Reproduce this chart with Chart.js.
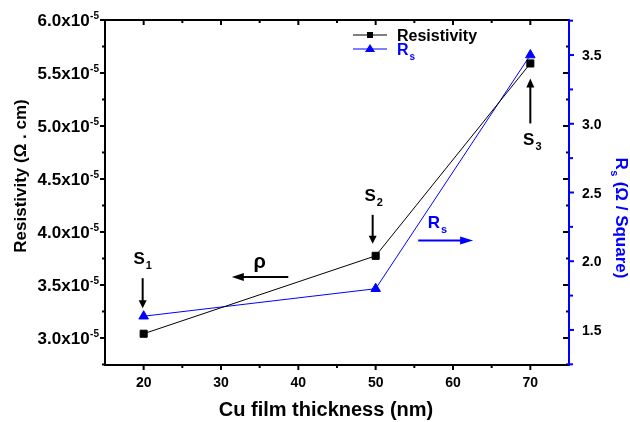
<!DOCTYPE html>
<html lang="en">
<head>
<meta charset="UTF-8">
<title>Resistivity and sheet resistance vs Cu film thickness</title>
<script src="https://cdn.jsdelivr.net/npm/chart.js@4.4.1/dist/chart.umd.min.js"></script>
<style>
  html, body { margin: 0; padding: 0; background: #fff; }
  canvas { display: block; }
</style>
</head>
<body>
<canvas id="chart" width="630" height="422"></canvas>
<script>
// Data
const thickness = [20, 50, 70];                       // nm
const resistivity = [3.04e-5, 3.775e-5, 5.59e-5];     // ohm.cm
const sheetResistance = [1.6, 1.8, 3.5];              // ohm/square

// Axis ticks
const xMajor = [20, 30, 40, 50, 60, 70];
const xMinor = [25, 35, 45, 55, 65];
const leftMajor = [3.0e-5, 3.5e-5, 4.0e-5, 4.5e-5, 5.0e-5, 5.5e-5, 6.0e-5];
const leftLabels = ['3.0x10', '3.5x10', '4.0x10', '4.5x10', '5.0x10', '5.5x10', '6.0x10'];
const leftMinor = [2.75e-5, 3.25e-5, 3.75e-5, 4.25e-5, 4.75e-5, 5.25e-5, 5.75e-5];
const rightMajor = [1.5, 2.0, 2.5, 3.0, 3.5];
const rightLabels = ['1.5', '2.0', '2.5', '3.0', '3.5'];
const rightMinor = [1.25, 1.75, 2.25, 2.75, 3.25, 3.75];

const BLUE = '#0000ff';
const font = (px) => `bold ${px}px "Liberation Sans", Arial, sans-serif`;

function line(ctx, x1, y1, x2, y2) {
  ctx.beginPath();
  ctx.moveTo(x1, y1);
  ctx.lineTo(x2, y2);
  ctx.stroke();
}

function arrow(ctx, x1, y1, x2, y2, color, head) {
  const a = Math.atan2(y2 - y1, x2 - x1);
  const h = head || 9;
  ctx.save();
  ctx.strokeStyle = color;
  ctx.fillStyle = color;
  ctx.lineWidth = 2;
  line(ctx, x1, y1, x2 - Math.cos(a) * h * 0.8, y2 - Math.sin(a) * h * 0.8);
  ctx.beginPath();
  ctx.moveTo(x2, y2);
  ctx.lineTo(x2 - h * Math.cos(a) + 4 * Math.sin(a), y2 - h * Math.sin(a) - 4 * Math.cos(a));
  ctx.lineTo(x2 - h * Math.cos(a) - 4 * Math.sin(a), y2 - h * Math.sin(a) + 4 * Math.cos(a));
  ctx.closePath();
  ctx.fill();
  ctx.restore();
}

// text with a subscript, centered on x
function subText(ctx, main, sub, x, y, size, subSize, color, align) {
  ctx.save();
  ctx.fillStyle = color;
  ctx.textBaseline = 'alphabetic';
  ctx.textAlign = 'left';
  ctx.font = font(size);
  const w1 = ctx.measureText(main).width;
  ctx.font = font(subSize);
  const w2 = ctx.measureText(sub).width;
  const x0 = align === 'left' ? x : x - (w1 + w2 + 1) / 2;
  ctx.font = font(size);
  ctx.fillText(main, x0, y);
  ctx.font = font(subSize);
  ctx.fillText(sub, x0 + w1 + 1, y + subSize * 0.45);
  ctx.restore();
  return w1 + w2 + 1;
}

const decorations = {
  id: 'decorations',
  afterDraw(chart) {
    const ctx = chart.ctx;
    const a = chart.chartArea;
    const xs = chart.scales.x, ys = chart.scales.y, rs = chart.scales.y1;
    ctx.save();
    ctx.lineCap = 'butt';

    // frame
    ctx.strokeStyle = '#000';
    ctx.lineWidth = 2;
    line(ctx, a.left, a.top, a.right, a.top);
    line(ctx, a.left, a.bottom, a.right, a.bottom);
    line(ctx, a.left, a.top - 1, a.left, a.bottom + 1);

    // bottom (out) and top (in) ticks
    xMajor.forEach(v => {
      const x = xs.getPixelForValue(v);
      line(ctx, x, a.bottom, x, a.bottom + 5);
      line(ctx, x, a.top, x, a.top + 5);
    });
    xMinor.forEach(v => {
      const x = xs.getPixelForValue(v);
      line(ctx, x, a.bottom, x, a.bottom + 3);
      line(ctx, x, a.top, x, a.top + 3);
    });

    // left (out) and mirrored right (in) ticks
    leftMajor.forEach(v => {
      const y = ys.getPixelForValue(v);
      line(ctx, a.left - 5, y, a.left, y);
      line(ctx, a.right - 6, y, a.right, y);
    });
    leftMinor.forEach(v => {
      const y = ys.getPixelForValue(v);
      line(ctx, a.left - 3, y, a.left, y);
      line(ctx, a.right - 3, y, a.right, y);
    });

    // right blue axis
    ctx.strokeStyle = BLUE;
    line(ctx, a.right, a.top - 1, a.right, a.bottom + 1);
    rightMajor.forEach(v => {
      const y = rs.getPixelForValue(v);
      line(ctx, a.right, y, a.right + 5, y);
    });
    rightMinor.forEach(v => {
      const y = rs.getPixelForValue(v);
      line(ctx, a.right, y, a.right + 4, y);
    });

    // tick labels
    ctx.fillStyle = '#000';
    ctx.textBaseline = 'alphabetic';
    ctx.font = font(14);
    ctx.textAlign = 'center';
    xMajor.forEach(v => ctx.fillText(String(v), xs.getPixelForValue(v), a.bottom + 22));

    leftMajor.forEach((v, i) => {
      const y = ys.getPixelForValue(v);
      ctx.font = font(10);
      ctx.textAlign = 'right';
      const supW = ctx.measureText('-5').width;
      ctx.fillText('-5', a.left - 6, y - 1);
      ctx.font = font(17);
      ctx.fillText(leftLabels[i], a.left - 6 - supW - 0.5, y + 6);
    });

    ctx.font = font(14);
    ctx.textAlign = 'left';
    rightMajor.forEach((v, i) => ctx.fillText(rightLabels[i], a.right + 13, rs.getPixelForValue(v) + 5));

    // axis titles
    ctx.font = font(20);
    ctx.textAlign = 'center';
    ctx.fillText('Cu film thickness (nm)', 326, 416);

    ctx.save();
    ctx.translate(26, 176);
    ctx.rotate(-Math.PI / 2);
    ctx.font = font(17);
    ctx.fillText('Resistivity (\u03A9 . cm)', 0, 0);
    ctx.restore();

    ctx.save();
    ctx.translate(616, 218);
    ctx.rotate(Math.PI / 2);
    ctx.font = font(17);
    const w1 = ctx.measureText('R').width;
    ctx.font = font(11);
    const w2 = ctx.measureText('s').width;
    ctx.font = font(17);
    const w3 = ctx.measureText(' (\u03A9 / Square)').width;
    const x0 = -(w1 + w2 + w3 + 1) / 2;
    ctx.fillStyle = BLUE;
    ctx.textAlign = 'left';
    ctx.fillText('R', x0, 0);
    ctx.font = font(11);
    ctx.fillText('s', x0 + w1 + 0.5, 5);
    ctx.font = font(17);
    ctx.fillText(' (\u03A9 / Square)', x0 + w1 + w2 + 1, 0);
    ctx.restore();

    // legend
    const lx = a.left + 248, ly1 = a.top + 15, ly2 = a.top + 29;
    ctx.lineWidth = 1;
    ctx.strokeStyle = '#000';
    line(ctx, lx, ly1, lx + 34, ly1);
    ctx.fillStyle = '#000';
    ctx.fillRect(lx + 14, ly1 - 3, 6, 6);
    ctx.strokeStyle = BLUE;
    line(ctx, lx, ly2, lx + 34, ly2);
    ctx.fillStyle = BLUE;
    ctx.beginPath();
    ctx.moveTo(lx + 17, ly2 - 5);
    ctx.lineTo(lx + 22, ly2 + 3);
    ctx.lineTo(lx + 12, ly2 + 3);
    ctx.closePath();
    ctx.fill();
    ctx.fillStyle = '#000';
    ctx.font = font(16);
    ctx.textAlign = 'left';
    ctx.fillText('Resistivity', lx + 44, ly1 + 6);
    subText(ctx, 'R', 's', lx + 44, ly2 + 6, 16, 10, BLUE, 'left');

    // sample annotations, anchored to the data points
    const p = (i) => ({ x: xs.getPixelForValue(thickness[i]), yr: ys.getPixelForValue(resistivity[i]), ys: rs.getPixelForValue(sheetResistance[i]) });
    const s1 = p(0), s2 = p(1), s3 = p(2);
    subText(ctx, 'S', '1', s1.x - 1, s1.ys - 52, 17, 11, '#000');
    arrow(ctx, s1.x - 1, s1.ys - 38, s1.x - 1, s1.ys - 8, '#000', 8);
    subText(ctx, 'S', '2', s2.x - 2, s2.yr - 55, 17, 11, '#000');
    arrow(ctx, s2.x - 3, s2.yr - 41, s2.x - 3, s2.yr - 12, '#000', 8);
    subText(ctx, 'S', '3', s3.x + 2, s3.yr + 82, 17, 11, '#000');
    arrow(ctx, s3.x, s3.yr + 60, s3.x, s3.yr + 15, '#000', 9);

    // rho arrow (left axis) and Rs arrow (right axis)
    const rhoY = ys.getPixelForValue(3.575e-5);
    ctx.fillStyle = '#000';
    ctx.font = font(20);
    ctx.textAlign = 'center';
    ctx.fillText('\u03C1', xs.getPixelForValue(35.0), rhoY - 9);
    arrow(ctx, xs.getPixelForValue(38.7), rhoY, xs.getPixelForValue(31.4), rhoY, '#000', 12);

    const rsY = rs.getPixelForValue(2.15);
    subText(ctx, 'R', 's', xs.getPixelForValue(58.0), rsY - 13, 17, 11, BLUE);
    arrow(ctx, xs.getPixelForValue(55.5), rsY, xs.getPixelForValue(62.6), rsY, BLUE, 13);

    ctx.restore();
  }
};

new Chart(document.getElementById('chart'), {
  type: 'line',
  data: {
    datasets: [
      {
        label: 'Resistivity',
        data: thickness.map((x, i) => ({ x: x, y: resistivity[i] })),
        yAxisID: 'y',
        borderColor: '#000',
        backgroundColor: '#000',
        borderWidth: 1,
        pointStyle: 'rect',
        pointRadius: 5,
        pointBorderWidth: 1,
        tension: 0
      },
      {
        label: 'Rs',
        data: thickness.map((x, i) => ({ x: x, y: sheetResistance[i] })),
        yAxisID: 'y1',
        borderColor: BLUE,
        backgroundColor: BLUE,
        borderWidth: 1,
        pointStyle: 'triangle',
        pointRadius: 5.5,
        pointBorderWidth: 1,
        tension: 0
      }
    ]
  },
  options: {
    responsive: false,
    animation: false,
    devicePixelRatio: 1,
    layout: { padding: { top: 20, left: 0, right: 0, bottom: 0 }, autoPadding: false },
    plugins: { legend: { display: false }, tooltip: { enabled: false } },
    scales: {
      x: {
        type: 'linear', position: 'bottom', min: 15, max: 75,
        grid: { display: false }, border: { display: false },
        ticks: { display: false },
        afterFit: (s) => { s.height = 57; }
      },
      y: {
        type: 'linear', position: 'left', min: 2.745e-5, max: 6.0e-5,
        grid: { display: false }, border: { display: false },
        ticks: { display: false },
        afterFit: (s) => { s.width = 105; }
      },
      y1: {
        type: 'linear', position: 'right', min: 1.245, max: 3.755,
        grid: { display: false }, border: { display: false },
        ticks: { display: false },
        afterFit: (s) => { s.width = 61; }
      }
    }
  },
  plugins: [decorations]
});
</script>
</body>
</html>
